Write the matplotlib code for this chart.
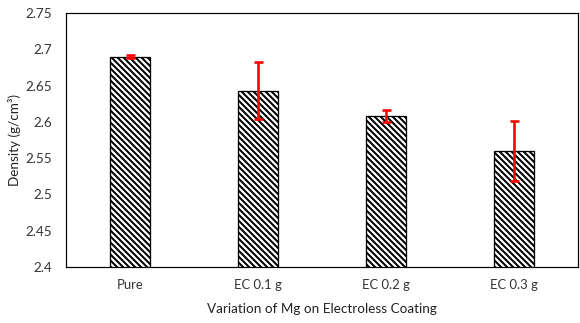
import matplotlib
matplotlib.use("Agg")
import matplotlib.pyplot as plt

categories = ["Pure", "EC 0.1 g", "EC 0.2 g", "EC 0.3 g"]
density = [2.690, 2.643, 2.608, 2.560]
errors = [0.002, 0.039, 0.008, 0.041]
yticks = [2.4, 2.45, 2.5, 2.55, 2.6, 2.65, 2.7, 2.75]
ytick_labels = ["2.4", "2.45", "2.5", "2.55", "2.6", "2.65", "2.7", "2.75"]

plt.rcParams['font.family'] = ['Lato', 'DejaVu Sans']
plt.rcParams['hatch.linewidth'] = 2.0

DPI = 72
fig = plt.figure(figsize=(580/DPI, 323/DPI), dpi=DPI)
ax = fig.add_axes([66/580, 1-267/323, (578-66)/580, (267-13)/323])

x = list(range(len(categories)))
ax.bar(x, density, width=0.31, color="white", edgecolor="black", hatch="\\" * 4, linewidth=1.3, zorder=2)
ax.errorbar(x, density, yerr=errors, fmt="none", ecolor="#ff0000", elinewidth=2.6, capsize=4.5, capthick=2.6, zorder=3)

ax.set_xlim(-0.5, 3.5)
ax.set_ylim(2.4, 2.75)
ax.set_yticks(yticks)
ax.set_yticklabels(ytick_labels, fontsize=13.5)
ax.set_xticks(x)
ax.set_xticklabels(categories, fontsize=13)
ax.tick_params(axis="both", length=0, colors="#333333")
ax.tick_params(axis="y", pad=14)
ax.tick_params(axis="x", pad=12)
for s in ax.spines.values():
    s.set_color("black")
    s.set_linewidth(1.2)

ax.set_xlabel("Variation of Mg on Electroless Coating", fontsize=13.5, color="#222222", labelpad=12)
ax.set_ylabel("Density (g/cm³)", fontsize=13.5, color="#222222", labelpad=4)

fig.savefig("out.png", dpi=DPI)
